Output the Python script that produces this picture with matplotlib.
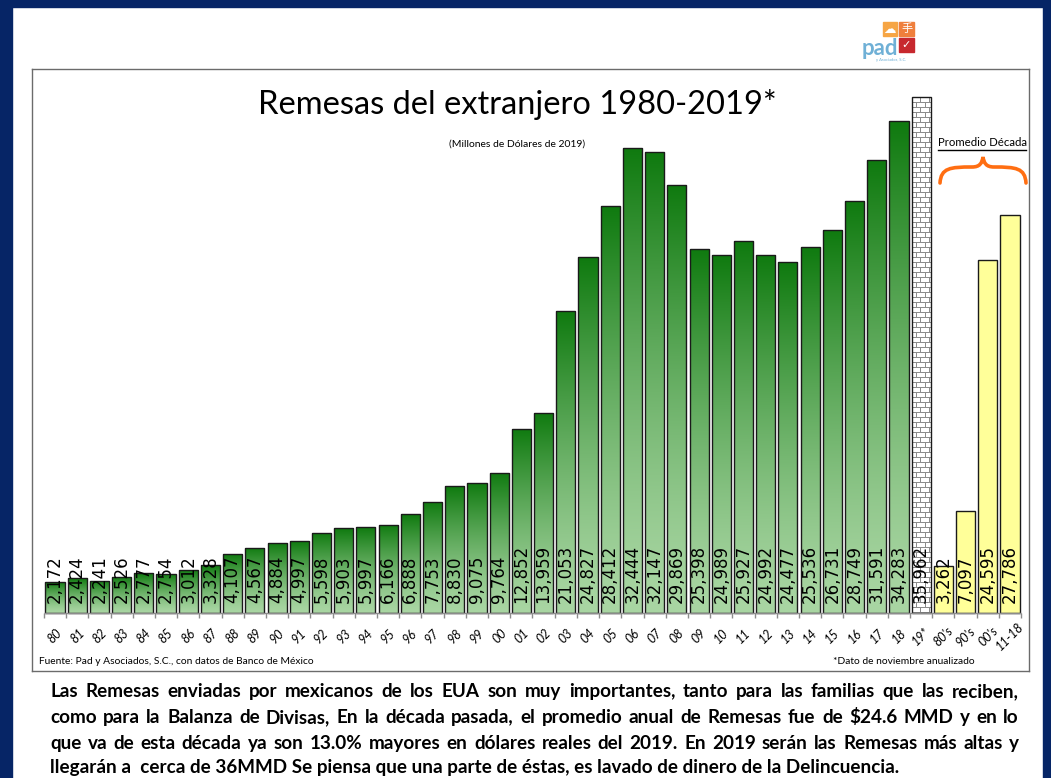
import numpy as np
import matplotlib
matplotlib.use("Agg")
import matplotlib.pyplot as plt
from matplotlib.patches import Rectangle, PathPatch
from matplotlib.path import Path
from matplotlib.colors import LinearSegmentedColormap
import matplotlib.transforms as mtransforms

# ---------------- data ----------------
year_labels = ["80", "81", "82", "83", "84", "85", "86", "87", "88", "89",
               "90", "91", "92", "93", "94", "95", "96", "97", "98", "99",
               "00", "01", "02", "03", "04", "05", "06", "07", "08", "09",
               "10", "11", "12", "13", "14", "15", "16", "17", "18"]
year_values = [2172, 2424, 2241, 2526, 2777, 2754, 3012, 3328, 4107, 4567,
               4884, 4997, 5598, 5903, 5997, 6166, 6888, 7753, 8830, 9075,
               9764, 12852, 13959, 21053, 24827, 28412, 32444, 32147, 29869, 25398,
               24989, 25927, 24992, 24477, 25536, 26731, 28749, 31591, 34283]
est_label = "19*"
est_value = 35962
decade_labels = ["80's", "90's", "00's", "11-18"]
decade_values = [3262, 7097, 24595, 27786]

title = "Remesas del extranjero 1980-2019*"
subtitle = "(Millones de Dólares de 2019)"
source = "Fuente: Pad y Asociados, S.C., con datos de Banco de México"
note = "*Dato de noviembre anualizado"
legend_txt = "Promedio Década"
paragraph = [
    "Las Remesas enviadas por mexicanos de los EUA son muy importantes, tanto para las familias que las reciben,",
    "como para la Balanza de Divisas, En la década pasada, el promedio anual de Remesas fue de $24.6 MMD y en lo",
    "que va de esta década ya son 13.0% mayores en dólares reales del 2019. En 2019 serán las Remesas más altas y",
    "llegarán a  cerca de 36MMD Se piensa que una parte de éstas, es lavado de dinero de la Delincuencia.",
]

# ---------------- figure ----------------
W, H = 1051, 778
fig = plt.figure(figsize=(W / 100, H / 100), dpi=100)
fig.patch.set_facecolor("white")

def fx(x):
    return x / W

def fy(y):
    return 1 - y / H

navy = "#062566"
fig.add_artist(Rectangle((0, 0), fx(12), 1, transform=fig.transFigure, color=navy, zorder=0))
fig.add_artist(Rectangle((0, fy(7)), 1, 7 / H, transform=fig.transFigure, color=navy, zorder=0))
fig.add_artist(Rectangle((fx(1043), 0), 8 / W, 1, transform=fig.transFigure, color=navy, zorder=0))

# axes = chart frame
ax_l, ax_r, ax_t, ax_b = 32, 1029, 69, 671
ax = fig.add_axes([fx(ax_l), fy(ax_b), (ax_r - ax_l) / W, (ax_b - ax_t) / H])
for s in ax.spines.values():
    s.set_color("#6b6b6b")
    s.set_linewidth(1.0)
ax.set_xticks([])
ax.set_yticks([])

base_px = 613
c0, step = 55, 22.21
upp = 69.74  # data units per pixel
ax.set_ylim(-(ax_b - base_px) * upp, (base_px - ax_t) * upp)
ax.set_xlim(-(c0 - ax_l) / step, 43 + (ax_r - 1010) / step)

labels = year_labels + [est_label] + decade_labels
values = year_values + [est_value] + decade_values
n = len(values)
xs = np.arange(n)
bw = 0.86

light = np.array([0xa9, 0xd6, 0xa3]) / 255
dark = np.array([0x0f, 0x7a, 0x0f]) / 255
t = np.linspace(0, 1, 256) ** 1.35
cols = light[None, :] + (dark - light)[None, :] * t[:, None]
green_cmap = LinearSegmentedColormap.from_list("g", cols)
grad = np.linspace(0, 1, 256).reshape(-1, 1)

for i, v in enumerate(values):
    x = xs[i]
    if i < len(year_values):
        bar = ax.bar(x, v, width=bw, color="none", edgecolor="#1a1a1a", linewidth=1.0, zorder=3)[0]
        im = ax.imshow(grad, cmap=green_cmap, origin="lower", aspect="auto",
                       extent=(x - bw / 2, x + bw / 2, 0, v), zorder=2, interpolation="bilinear")
        im.set_clip_path(bar)
    elif i == len(year_values):
        bar = ax.bar(x, v, width=bw, color="none", edgecolor="#1a1a1a", linewidth=1.0, zorder=3)[0]
        hp = int(round(v / upp))
        wp = int(round(bw * step))
        brick = np.ones((hp, wp))
        for r in range(hp):
            row = r // 5
            if r % 5 == 0:
                brick[r, :] = 0.55
            else:
                off = 0 if row % 2 == 0 else 4
                for c in range(wp):
                    if (c + off) % 8 == 0:
                        brick[r, c] = 0.55
        im = ax.imshow(brick, cmap="gray", vmin=0, vmax=1, origin="lower", aspect="auto",
                       extent=(x - bw / 2, x + bw / 2, 0, v), zorder=2, interpolation="nearest")
        im.set_clip_path(bar)
    else:
        ax.bar(x, v, width=bw, color="#ffff99", edgecolor="#1a1a1a", linewidth=1.0, zorder=3)

# value labels
lab_tr = mtransforms.offset_copy(ax.transData, fig=fig, x=0, y=10, units="dots")
for i, v in enumerate(values):
    ax.text(xs[i], 0, f"{v:,}", transform=lab_tr, rotation=90, ha="center", va="bottom",
            fontsize=12, family="DejaVu Sans", color="black", zorder=5)

# baseline + tick marks
ax.plot([-0.5, n - 0.5], [0, 0], color="#8c8c8c", lw=1.0, zorder=4, solid_capstyle="butt")
ax.vlines(np.arange(-0.5, n, 1.0), -5 * upp, 0, color="#8c8c8c", lw=1.0, zorder=4)

# category labels
cat_tr = mtransforms.offset_copy(ax.transData, fig=fig, x=0, y=-23, units="dots")
for i, lab in enumerate(labels):
    ax.text(xs[i], 0, lab, transform=cat_tr, rotation=45, ha="center", va="center",
            fontsize=9, family="Lato", style="italic", color="black")

# titles
fig.text(fx(517), fy(104), title, ha="center", va="center", fontsize=23.5, family="Lato")
fig.text(fx(517), fy(144), subtitle, ha="center", va="center", fontsize=7.5, family="Lato")

# legend text + brace
fig.text(fx(982), fy(142), legend_txt, ha="center", va="center", fontsize=8.2, family="Lato")
fig.add_artist(plt.Line2D([fx(938), fx(1026)], [fy(150), fy(150)], transform=fig.transFigure,
                          color="black", lw=1.0))
verts = [(fx(940), fy(183)), (fx(941), fy(168)), (fx(950), fy(167)), (fx(972), fy(167)),
         (fx(980), fy(167)), (fx(982), fy(163)), (fx(983), fy(157)),
         (fx(984), fy(163)), (fx(986), fy(167)), (fx(994), fy(167)),
         (fx(1016), fy(167)), (fx(1025), fy(168)), (fx(1026), fy(183))]
codes = [Path.MOVETO, Path.CURVE4, Path.CURVE4, Path.CURVE4,
         Path.CURVE4, Path.CURVE4, Path.CURVE4,
         Path.CURVE4, Path.CURVE4, Path.CURVE4,
         Path.CURVE4, Path.CURVE4, Path.CURVE4]
fig.add_artist(PathPatch(Path(verts, codes), transform=fig.transFigure, fill=False,
                         edgecolor="#ff6e12", lw=2.6, capstyle="round"))

# footnotes
fig.text(fx(39), fy(661), source, ha="left", va="center", fontsize=7.4, family="Lato")
fig.text(fx(975), fy(661), note, ha="right", va="center", fontsize=7.4, family="Lato")

# logo
fig.add_artist(Rectangle((fx(883), fy(36)), 14 / W, 14 / H, transform=fig.transFigure, color="#f6a544"))
fig.add_artist(Rectangle((fx(899), fy(36)), 15 / W, 14 / H, transform=fig.transFigure, color="#ef7f3c"))
fig.add_artist(Rectangle((fx(899), fy(52)), 15 / W, 14 / H, transform=fig.transFigure, color="#c7282e"))
fig.text(fx(890), fy(29), "☁", ha="center", va="center", fontsize=9, color="white", family="DejaVu Sans")
fig.text(fx(906.5), fy(29), "手", ha="center", va="center", fontsize=8, color="white", family="Noto Sans CJK SC")
fig.text(fx(906.5), fy(45), "✓", ha="center", va="center", fontsize=8, color="white", family="DejaVu Sans")
fig.text(fx(880), fy(55), "pad", ha="center", va="baseline", fontsize=16, color="#6fb0d6",
         family="Lato", weight="bold")
fig.text(fx(891), fy(58), "y Asociados, S.C.", ha="center", va="top", fontsize=3, color="#6fb0d6",
         family="Lato")

# paragraph (justified)
fig.canvas.draw()
rend = fig.canvas.get_renderer()
par_kw = dict(fontsize=13.6, family="Lato", weight="bold", va="baseline", ha="left", color="black")
x0, x1 = 50, 1019
ys = [697, 723, 749, 773]
for k, line in enumerate(paragraph):
    y = ys[k]
    if k < 3:
        words = line.split(" ")
        ts = [fig.text(0, fy(y), w, **par_kw) for w in words]
        ws = [tt.get_window_extent(rend).width for tt in ts]
        gap = (x1 - x0 - sum(ws)) / (len(words) - 1)
        x = x0
        for tt, w in zip(ts, ws):
            tt.set_x(fx(x))
            x += w + gap
    else:
        fig.text(fx(x0), fy(y), line, **par_kw)

fig.savefig("out.png", dpi=100, facecolor="white")
